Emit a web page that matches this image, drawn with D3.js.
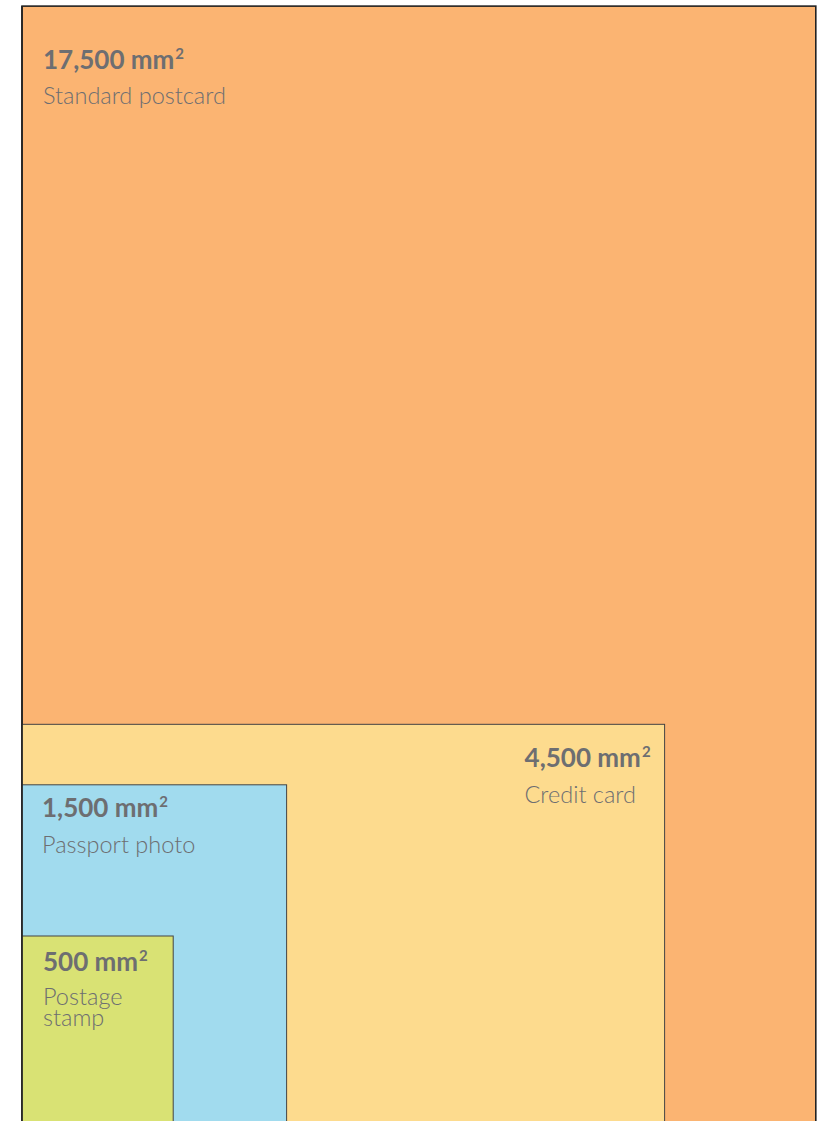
<!DOCTYPE html>
<html><head><meta charset="utf-8">
<script src="https://cdn.jsdelivr.net/npm/d3@7"></script>
<style>html,body{margin:0;padding:0;background:#fff;overflow:hidden}</style>
</head><body>
<svg id="chart" width="818" height="1121"></svg>
<script>
// Data (dimensions in mm)
const names = ["Standard postcard", "Credit card", "Passport photo", "Postage stamp"];
const areaLabels = ["17,500", "4,500", "1,500", "500"];
const widthsMm = [105, 85, 35, 20];
const heightsMm = [148, 53, 45, 25];
const nameLines = [["Standard postcard"], ["Credit card"], ["Passport photo"], ["Postage", "stamp"]];

// styles
const fills = ["#FBB472", "#FDDB8E", "#A1DBEE", "#D9E274"];
const strokes = ["#222", "#444", "#444", "#444"];
const labelStyle = [
  {dx: 21, boldDy: 63, nameDy: 98, anchorRight: false},
  {dx: -140, boldDy: 43, nameDy: 79, anchorRight: true},
  {dx: 20, boldDy: 32, nameDy: 68, anchorRight: false},
  {dx: 21, boldDy: 35, nameDy: 69, anchorRight: false}
];
const textColor = "#6d6e71";

const svg = d3.select("#chart");
const x = d3.scaleLinear().domain([0, 105]).range([22, 815.8]);
const k = (x(105) - x(0)) / 105;
const y = d3.scaleLinear().domain([0, 148]).range([1125, 1125 - 148 * k]);

const data = names.map((n, i) => ({name: n, area: areaLabels[i], w: widthsMm[i], h: heightsMm[i], lines: nameLines[i], i}));

const g = svg.append("g");
g.selectAll("rect").data(data).join("rect")
  .attr("x", d => x(0))
  .attr("y", d => y(d.h))
  .attr("width", d => x(d.w) - x(0))
  .attr("height", d => y(0) - y(d.h))
  .attr("fill", d => fills[d.i])
  .attr("stroke", d => strokes[d.i])
  .attr("stroke-width", d => d.i === 0 ? 1.6 : 1);

g.append("line").attr("x1", x(0)).attr("x2", x(0)).attr("y1", y(148)).attr("y2", 1121)
  .attr("stroke", "#222").attr("stroke-width", 1.6);

const labels = svg.append("g").attr("font-family", "Lato, 'Open Sans', sans-serif").attr("fill", textColor);
data.forEach(d => {
  const st = labelStyle[d.i];
  const lx = st.anchorRight ? x(d.w) + st.dx : x(0) + st.dx;
  const top = y(d.h);
  const t = labels.append("text").attr("x", lx).attr("y", top + st.boldDy)
    .attr("font-size", 26).attr("font-weight", 700);
  t.append("tspan").text(d.area + " mm");
  t.append("tspan").text("2").attr("font-size", 15).attr("dy", -10).attr("dx", 1);
  d.lines.forEach((ln, j) => {
    labels.append("text").attr("x", lx).attr("y", top + st.nameDy + j * 21)
      .attr("font-size", 23.5).attr("font-weight", 300).text(ln);
  });
});
</script>
</body></html>
